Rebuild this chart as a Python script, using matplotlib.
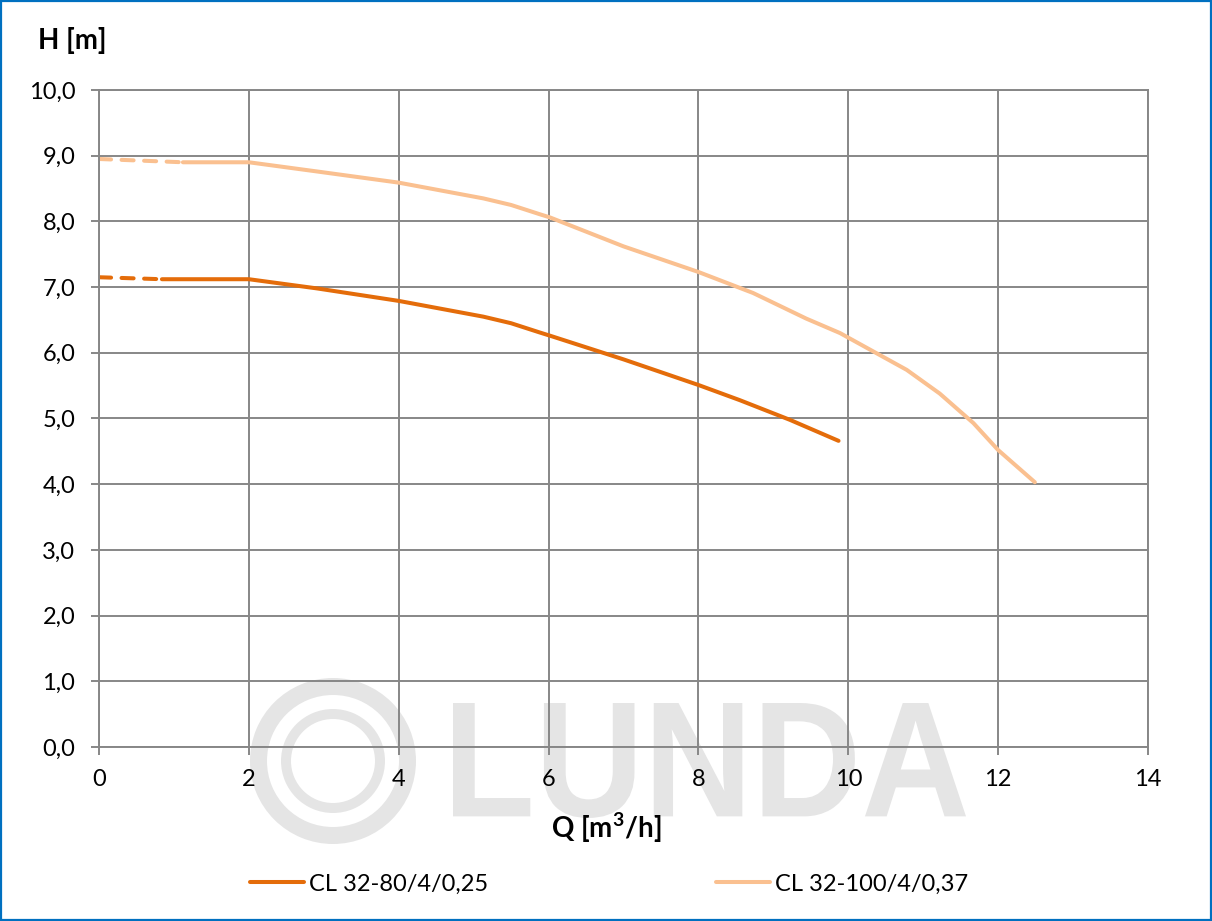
import numpy as np
import matplotlib
matplotlib.use("Agg")
import matplotlib.pyplot as plt
from matplotlib.patches import Annulus, PathPatch, Rectangle
from matplotlib.textpath import TextPath
from matplotlib.font_manager import FontProperties
from matplotlib.transforms import Affine2D, IdentityTransform

# pump curves: Q [m3/h], H [m]
q_80_dash = [0.0, 0.84]
h_80_dash = [7.15, 7.12]
q_80 = [0.84, 1.4, 2.0, 2.91, 4.0, 5.13, 5.5, 5.88, 6.02, 7.0, 8.0, 8.55, 9.22, 9.87]
h_80 = [7.12, 7.12, 7.12, 6.98, 6.79, 6.55, 6.45, 6.31, 6.26, 5.90, 5.51, 5.28, 4.98, 4.66]

q_100_dash = [0.0, 1.12]
h_100_dash = [8.95, 8.90]
q_100 = [1.12, 1.5, 2.0, 2.91, 4.0, 5.13, 5.5, 5.88, 6.02, 7.0, 8.0, 8.73, 9.44,
         9.89, 10.16, 10.78, 11.22, 11.67, 12.0, 12.49]
h_100 = [8.90, 8.90, 8.90, 8.76, 8.59, 8.35, 8.25, 8.11, 8.06, 7.62, 7.23, 6.91, 6.52,
         6.30, 6.13, 5.74, 5.38, 4.93, 4.52, 4.03]

labels = ["CL 32-80/4/0,25", "CL 32-100/4/0,37"]
x_ticks = [0, 2, 4, 6, 8, 10, 12, 14]
y_ticks = [0, 1, 2, 3, 4, 5, 6, 7, 8, 9, 10]
y_tick_labels = ["0,0", "1,0", "2,0", "3,0", "4,0", "5,0", "6,0", "7,0", "8,0", "9,0", "10,0"]

dark = "#e46c0a"
light = "#fac090"
grid = "#878787"

W, H = 1212, 921
plt.rcParams["font.family"] = ["Lato", "DejaVu Sans"]

fig = plt.figure(figsize=(W / 100, H / 100), dpi=100)
fig.patch.set_facecolor("white")


def px(x, y):
    # pixel from top-left -> display coords
    return x, H - y


# watermark (logo rings + LUNDA), drawn under the axes
wm = "#e5e5e5"
cx, cy = px(333, 761)
for r, w in [(83, 17), (52, 10)]:
    ring = Annulus((cx, cy), r, w, transform=IdentityTransform(),
                   facecolor=wm, edgecolor="none", zorder=-5)
    fig.add_artist(ring)

tp = TextPath((0, 0), "LUNDA", prop=FontProperties(family="Liberation Sans", weight="bold"))
ext = tp.get_extents()
x0, y0 = px(453, 818)
x1, y1 = px(966, 703)
tr = (Affine2D().translate(-ext.x0, -ext.y0)
      .scale((x1 - x0) / ext.width, (y1 - y0) / ext.height)
      .translate(x0, y0))
fig.add_artist(PathPatch(tr.transform_path(tp), facecolor=wm, edgecolor="none",
                         transform=IdentityTransform(), zorder=-5))

# blue frame
fig.add_artist(Rectangle((0.001, 0.001), 0.998, 0.998, transform=fig.transFigure,
                         fill=False, edgecolor="#0070c0", linewidth=1.6, zorder=10))

ax = fig.add_axes([99 / W, 1 - 747 / H, (1148 - 99) / W, (747 - 90) / H])
ax.set_facecolor("none")

ax.plot(q_80_dash, h_80_dash, color=dark, lw=2.9, dashes=(3.0, 2.6),
        dash_capstyle="round", solid_capstyle="round", label="_nolegend_")
l1, = ax.plot(q_80, h_80, color=dark, lw=2.9, solid_capstyle="round", label=labels[0])
ax.plot(q_100_dash, h_100_dash, color=light, lw=2.9, dashes=(3.0, 2.6),
        dash_capstyle="round", solid_capstyle="round", label="_nolegend_")
l2, = ax.plot(q_100, h_100, color=light, lw=2.9, solid_capstyle="round", label=labels[1])

ax.set_xlim(0, 14)
ax.set_ylim(0, 10)
ax.set_xticks(x_ticks)
ax.set_xticklabels([str(v) for v in x_ticks])
ax.set_yticks(y_ticks)
ax.set_yticklabels(y_tick_labels)
ax.grid(True, color=grid, lw=1.4)
ax.set_axisbelow(True)
for s in ax.spines.values():
    s.set_color(grid)
    s.set_linewidth(1.4)
ax.tick_params(axis="both", colors=grid, labelcolor="black", labelsize=17,
               length=6, width=1.4, direction="out")
ax.tick_params(axis="y", pad=11)
ax.tick_params(axis="x", pad=10)

fig.text(38 / W, 1 - 40 / H, "H [m]", fontsize=20, fontweight="bold",
         ha="left", va="center")
fig.text(606 / W, 1 - 828 / H, "Q [m$^\\mathregular{3}$/h]", fontsize=20,
         fontweight="bold", ha="center", va="center")

for line, xl in [(l1, 250), (l2, 716)]:
    fig.legend(handles=[line], loc="center left", bbox_to_anchor=(xl / W, 1 - 884 / H),
               frameon=False, fontsize=17, handlelength=2.3, handletextpad=0.2,
               borderpad=0, borderaxespad=0)

fig.savefig("out.png", dpi=100)
